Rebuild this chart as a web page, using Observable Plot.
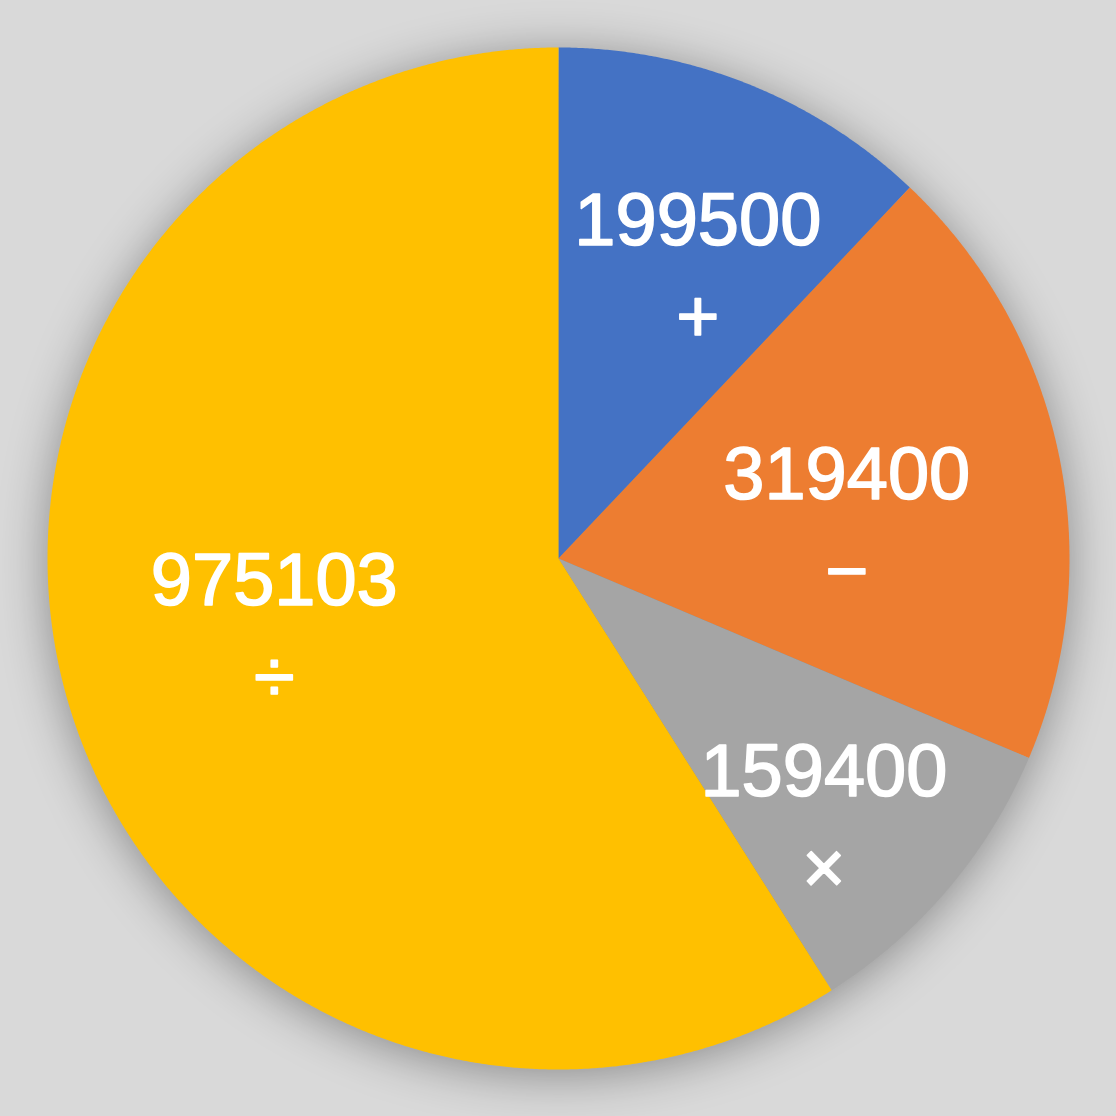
<!DOCTYPE html>
<html>
<head>
<meta charset="utf-8">
<script src="https://cdn.jsdelivr.net/npm/d3@7"></script>
<script src="https://cdn.jsdelivr.net/npm/@observablehq/plot@0.6"></script>
<style>
  html, body { margin: 0; padding: 0; background: #d9d9d9; }
  #chart { width: 1116px; height: 1116px; }
  #chart svg g[aria-label="line"] { filter: drop-shadow(0px 6px 24px rgba(0,0,0,0.36)); }
</style>
</head>
<body>
<div id="chart"></div>
<script>
// Data
const categories = ["+", "−", "×", "÷"];
const values = [199500, 319400, 159400, 975103];
const colors = ["#4472c4", "#ed7d31", "#a5a5a5", "#ffc000"];

const W = 1116, R = 511;
const half = (W / 2) / R; // domain half-width in radius units

const pie = d3.pie().sort(null).value(d => d.value)(
  categories.map((c, i) => ({category: c, value: values[i]}))
);

// polygon points for each slice (angle clockwise from top)
const pts = [];
for (const s of pie) {
  const c = s.data.category;
  pts.push({category: c, x: 0, y: 0});
  const n = Math.max(2, Math.ceil((s.endAngle - s.startAngle) / (Math.PI / 720)));
  for (let k = 0; k <= n; k++) {
    const a = s.startAngle + (s.endAngle - s.startAngle) * k / n;
    pts.push({category: c, x: Math.sin(a), y: Math.cos(a)});
  }
  pts.push({category: c, x: 0, y: 0});
}

// label positions: near mid-angle, radius chosen to fit the text block inside the slice
const halfText = 121 / R;
const shift = 3.5 * Math.PI / 180;
const labels = pie.map(s => {
  const mid = (s.startAngle + s.endAngle) / 2 + shift;
  const span = s.endAngle - s.startAngle;
  let r = span < Math.PI ? halfText / Math.sin(span / 2) : 0;
  r = Math.max(0.57, Math.min(0.72, r));
  return {
    category: s.data.category,
    text: `${s.data.value}\n${s.data.category}`,
    x: r * Math.sin(mid),
    y: r * Math.cos(mid)
  };
});

const chart = Plot.plot({
  width: W,
  height: W,
  margin: 0,
  x: {domain: [-half, half], axis: null},
  y: {domain: [-half, half], axis: null},
  color: {domain: categories, range: colors},
  style: {background: "transparent"},
  marks: [
    Plot.line(pts, {x: "x", y: "y", z: "category", fill: "category", stroke: null, curve: "linear"}),
    Plot.text(labels, {
      x: "x", y: "y", text: "text",
      fill: "white",
      stroke: "white",
      strokeWidth: 1.6,
      fontSize: 74,
      fontFamily: "Liberation Sans, Arial, sans-serif",
      lineHeight: 1.31,
      textAnchor: "middle"
    })
  ]
});

document.getElementById("chart").appendChild(chart);
</script>
</body>
</html>
